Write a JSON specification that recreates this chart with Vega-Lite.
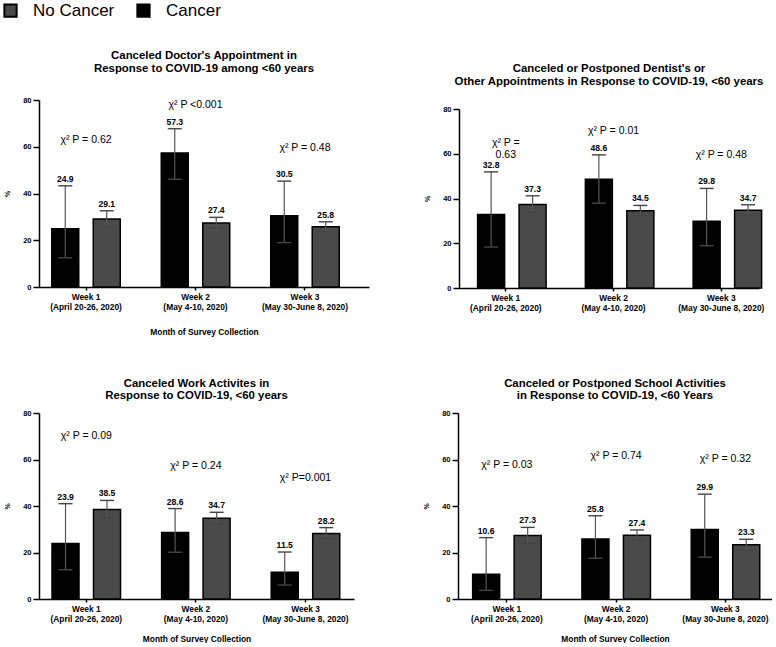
{
  "$schema": "https://vega.github.io/schema/vega-lite/v6.json",
  "padding": {"left": 2, "top": 2, "right": 0, "bottom": 0},
  "background": "white",
  "datasets": {
    "doctor": [
      {"week": "Week 1|(April 20-26, 2020)", "group": "Cancer", "value": 24.9, "lo": 12.5, "hi": 43.3},
      {"week": "Week 1|(April 20-26, 2020)", "group": "No Cancer", "value": 29.1, "lo": 25.8, "hi": 32.6},
      {"week": "Week 2|(May 4-10, 2020)", "group": "Cancer", "value": 57.3, "lo": 46.1, "hi": 67.7},
      {"week": "Week 2|(May 4-10, 2020)", "group": "No Cancer", "value": 27.4, "lo": 25.1, "hi": 29.8},
      {"week": "Week 3|(May 30-June 8, 2020)", "group": "Cancer", "value": 30.5, "lo": 19.0, "hi": 45.3},
      {"week": "Week 3|(May 30-June 8, 2020)", "group": "No Cancer", "value": 25.8, "lo": 23.7, "hi": 27.9}
    ],
    "doctor_chi": [
      {"week": "Week 1|(April 20-26, 2020)", "label": "χ² P = 0.62", "pos": 62.9},
      {"week": "Week 2|(May 4-10, 2020)", "label": "χ² P <0.001", "pos": 77.9},
      {"week": "Week 3|(May 30-June 8, 2020)", "label": "χ² P = 0.48", "pos": 59.6}
    ],
    "dentist": [
      {"week": "Week 1|(April 20-26, 2020)", "group": "Cancer", "value": 32.8, "lo": 18.3, "hi": 51.9},
      {"week": "Week 1|(April 20-26, 2020)", "group": "No Cancer", "value": 37.3, "lo": 33.8, "hi": 41.2},
      {"week": "Week 2|(May 4-10, 2020)", "group": "Cancer", "value": 48.6, "lo": 37.9, "hi": 59.5},
      {"week": "Week 2|(May 4-10, 2020)", "group": "No Cancer", "value": 34.5, "lo": 32.3, "hi": 36.9},
      {"week": "Week 3|(May 30-June 8, 2020)", "group": "Cancer", "value": 29.8, "lo": 18.9, "hi": 44.5},
      {"week": "Week 3|(May 30-June 8, 2020)", "group": "No Cancer", "value": 34.7, "lo": 32.3, "hi": 37.2}
    ],
    "dentist_chi": [
      {"week": "Week 1|(April 20-26, 2020)", "label": "χ² P =|0.63", "pos": 64.9},
      {"week": "Week 2|(May 4-10, 2020)", "label": "χ² P = 0.01", "pos": 70.2},
      {"week": "Week 3|(May 30-June 8, 2020)", "label": "χ² P = 0.48", "pos": 59.5}
    ],
    "work": [
      {"week": "Week 1|(April 20-26, 2020)", "group": "Cancer", "value": 23.9, "lo": 12.6, "hi": 41.0},
      {"week": "Week 1|(April 20-26, 2020)", "group": "No Cancer", "value": 38.5, "lo": 34.8, "hi": 42.4},
      {"week": "Week 2|(May 4-10, 2020)", "group": "Cancer", "value": 28.6, "lo": 20.1, "hi": 38.9},
      {"week": "Week 2|(May 4-10, 2020)", "group": "No Cancer", "value": 34.7, "lo": 32.4, "hi": 37.3},
      {"week": "Week 3|(May 30-June 8, 2020)", "group": "Cancer", "value": 11.5, "lo": 6.0, "hi": 20.2},
      {"week": "Week 3|(May 30-June 8, 2020)", "group": "No Cancer", "value": 28.2, "lo": 26.1, "hi": 30.7}
    ],
    "work_chi": [
      {"week": "Week 1|(April 20-26, 2020)", "label": "χ² P = 0.09", "pos": 70.0},
      {"week": "Week 2|(May 4-10, 2020)", "label": "χ² P = 0.24", "pos": 57.1},
      {"week": "Week 3|(May 30-June 8, 2020)", "label": "χ² P=0.001", "pos": 52.0}
    ],
    "school": [
      {"week": "Week 1|(April 20-26, 2020)", "group": "Cancer", "value": 10.6, "lo": 3.7, "hi": 26.4},
      {"week": "Week 1|(April 20-26, 2020)", "group": "No Cancer", "value": 27.3, "lo": 23.8, "hi": 30.8},
      {"week": "Week 2|(May 4-10, 2020)", "group": "Cancer", "value": 25.8, "lo": 17.5, "hi": 35.8},
      {"week": "Week 2|(May 4-10, 2020)", "group": "No Cancer", "value": 27.4, "lo": 25.4, "hi": 29.7},
      {"week": "Week 3|(May 30-June 8, 2020)", "group": "Cancer", "value": 29.9, "lo": 18.0, "hi": 45.1},
      {"week": "Week 3|(May 30-June 8, 2020)", "group": "No Cancer", "value": 23.3, "lo": 20.8, "hi": 25.7}
    ],
    "school_chi": [
      {"week": "Week 1|(April 20-26, 2020)", "label": "χ² P = 0.03", "pos": 57.8},
      {"week": "Week 2|(May 4-10, 2020)", "label": "χ² P = 0.74", "pos": 61.5},
      {"week": "Week 3|(May 30-June 8, 2020)", "label": "χ² P = 0.32", "pos": 60.3}
    ]
  },
  "bounds": "flush",
  "spacing": 313,
  "vconcat": [
    {
      "bounds": "flush",
      "spacing": 90,
      "hconcat": [
        {
          "width": 330, "height": 187,
          "title": {"text": ["Canceled Doctor's Appointment in", "Response to COVID-19 among <60 years"], "offset": 22},
          "layer": [
            {
              "data": {"name": "doctor"},
              "mark": {"type": "bar", "stroke": "#000", "strokeWidth": 1.5},
              "encoding": {
                "x": {"field": "week", "type": "nominal", "title": "Month of Survey Collection", "scale": {"domain": ["Week 1|(April 20-26, 2020)", "Week 2|(May 4-10, 2020)", "Week 3|(May 30-June 8, 2020)"], "paddingInner": 0.2, "paddingOuter": 0.107, "align": 0.137}, "axis": {"labelExpr": "split(datum.label, '|')", "titlePadding": 17}},
                "xOffset": {"field": "group", "type": "nominal", "scale": {"domain": ["Cancer", "No Cancer"], "paddingInner": 0.349, "paddingOuter": 0.23}},
                "y": {"field": "value", "type": "quantitative", "title": "%", "scale": {"domain": [0, 80]}},
                "color": {"field": "group", "type": "nominal", "scale": {"domain": ["No Cancer", "Cancer"], "range": ["#4a4a4a", "#000000"]},
                  "legend": {"orient": "none", "legendX": -37, "legendY": -98, "direction": "horizontal", "title": null, "symbolType": "square", "symbolSize": 150, "symbolStrokeColor": "#000", "symbolStrokeWidth": 2, "labelFontSize": 17, "labelFont": "Liberation Sans", "labelColor": "#000", "labelOffset": 14, "columnPadding": 18, "padding": 0}}
              }
            },
            {
              "data": {"name": "doctor"},
              "mark": {"type": "rule", "color": "#555", "strokeWidth": 1.2},
              "encoding": {
                "x": {"field": "week", "type": "nominal", "title": "Month of Survey Collection"},
                "xOffset": {"field": "group", "type": "nominal"},
                "y": {"field": "lo", "type": "quantitative", "title": "%"},
                "y2": {"field": "hi"}
              }
            },
            {
              "data": {"name": "doctor"},
              "mark": {"type": "point", "shape": "stroke", "size": 196, "filled": false, "color": "#444", "strokeWidth": 1.4, "opacity": 1},
              "encoding": {
                "x": {"field": "week", "type": "nominal", "title": "Month of Survey Collection"},
                "xOffset": {"field": "group", "type": "nominal"},
                "y": {"field": "hi", "type": "quantitative", "title": "%"}
              }
            },
            {
              "data": {"name": "doctor"},
              "mark": {"type": "point", "shape": "stroke", "size": 196, "filled": false, "color": "#444", "strokeWidth": 1.4, "opacity": 1},
              "encoding": {
                "x": {"field": "week", "type": "nominal", "title": "Month of Survey Collection"},
                "xOffset": {"field": "group", "type": "nominal"},
                "y": {"field": "lo", "type": "quantitative", "title": "%"}
              }
            },
            {
              "data": {"name": "doctor"},
              "mark": {"type": "text", "baseline": "bottom", "dy": -2, "fontSize": 8.6, "fontWeight": "bold", "color": "#000"},
              "encoding": {
                "x": {"field": "week", "type": "nominal", "title": "Month of Survey Collection"},
                "xOffset": {"field": "group", "type": "nominal"},
                "y": {"field": "hi", "type": "quantitative", "title": "%"},
                "text": {"field": "value", "type": "quantitative", "format": ".1f"}
              }
            },
            {
              "data": {"name": "doctor_chi"},
              "mark": {"type": "text", "fontSize": 10.5, "lineBreak": "|", "baseline": "middle", "color": "#000"},
              "encoding": {
                "x": {"field": "week", "type": "nominal", "title": "Month of Survey Collection"},
                "y": {"field": "pos", "type": "quantitative", "title": "%"},
                "text": {"field": "label"}
              }
            }
          ]
        },
        {
          "bounds": "flush",
          "spacing": 0,
          "vconcat": [
            {"width": 300, "height": 9, "data": {"values": []}, "mark": "rect"},
            {
              "width": 300, "height": 179,
              "title": {"text": ["Canceled or Postponed Dentist's or", "Other Appointments in Response to COVID-19, <60 years"], "offset": 18},
              "layer": [
                {
                  "data": {"name": "dentist"},
                  "mark": {"type": "bar", "stroke": "#000", "strokeWidth": 1.5},
                  "encoding": {
                    "x": {"field": "week", "type": "nominal", "title": null, "scale": {"domain": ["Week 1|(April 20-26, 2020)", "Week 2|(May 4-10, 2020)", "Week 3|(May 30-June 8, 2020)"], "paddingInner": 0.3, "paddingOuter": 0.042, "align": 1}, "axis": {"labelExpr": "split(datum.label, '|')"}},
                    "xOffset": {"field": "group", "type": "nominal", "scale": {"domain": ["Cancer", "No Cancer"], "paddingInner": 0.362, "paddingOuter": 0.1165}},
                    "y": {"field": "value", "type": "quantitative", "title": "%", "scale": {"domain": [0, 80]}},
                    "color": {"field": "group", "type": "nominal", "scale": {"domain": ["No Cancer", "Cancer"], "range": ["#4a4a4a", "#000000"]},
                      "legend": {"orient": "none", "legendX": -37, "legendY": -98, "direction": "horizontal", "title": null, "symbolType": "square", "symbolSize": 150, "symbolStrokeColor": "#000", "symbolStrokeWidth": 2, "labelFontSize": 17, "labelFont": "Liberation Sans", "labelColor": "#000", "labelOffset": 14, "columnPadding": 18, "padding": 0}}
                  }
                },
                {
                  "data": {"name": "dentist"},
                  "mark": {"type": "rule", "color": "#555", "strokeWidth": 1.2},
                  "encoding": {
                    "x": {"field": "week", "type": "nominal", "title": null},
                    "xOffset": {"field": "group", "type": "nominal"},
                    "y": {"field": "lo", "type": "quantitative", "title": "%"},
                    "y2": {"field": "hi"}
                  }
                },
                {
                  "data": {"name": "dentist"},
                  "mark": {"type": "point", "shape": "stroke", "size": 196, "filled": false, "color": "#444", "strokeWidth": 1.4, "opacity": 1},
                  "encoding": {
                    "x": {"field": "week", "type": "nominal", "title": null},
                    "xOffset": {"field": "group", "type": "nominal"},
                    "y": {"field": "hi", "type": "quantitative", "title": "%"}
                  }
                },
                {
                  "data": {"name": "dentist"},
                  "mark": {"type": "point", "shape": "stroke", "size": 196, "filled": false, "color": "#444", "strokeWidth": 1.4, "opacity": 1},
                  "encoding": {
                    "x": {"field": "week", "type": "nominal", "title": null},
                    "xOffset": {"field": "group", "type": "nominal"},
                    "y": {"field": "lo", "type": "quantitative", "title": "%"}
                  }
                },
                {
                  "data": {"name": "dentist"},
                  "mark": {"type": "text", "baseline": "bottom", "dy": -2, "fontSize": 8.6, "fontWeight": "bold", "color": "#000"},
                  "encoding": {
                    "x": {"field": "week", "type": "nominal", "title": null},
                    "xOffset": {"field": "group", "type": "nominal"},
                    "y": {"field": "hi", "type": "quantitative", "title": "%"},
                    "text": {"field": "value", "type": "quantitative", "format": ".1f"}
                  }
                },
                {
                  "data": {"name": "dentist_chi"},
                  "mark": {"type": "text", "fontSize": 10.5, "lineBreak": "|", "baseline": "middle", "color": "#000"},
                  "encoding": {
                    "x": {"field": "week", "type": "nominal", "title": null},
                    "y": {"field": "pos", "type": "quantitative", "title": "%"},
                    "text": {"field": "label"}
                  }
                }
              ]
            }
          ]
        }
      ]
    },
    {
      "bounds": "flush",
      "spacing": 104,
      "hconcat": [
        {
          "width": 315, "height": 186,
          "title": {"text": ["Canceled Work Activites in", "Response to COVID-19, <60 years"], "offset": 8, "lineHeight": 12},
          "layer": [
            {
              "data": {"name": "work"},
              "mark": {"type": "bar", "stroke": "#000", "strokeWidth": 1.5},
              "encoding": {
                "x": {"field": "week", "type": "nominal", "title": "Month of Survey Collection", "scale": {"domain": ["Week 1|(April 20-26, 2020)", "Week 2|(May 4-10, 2020)", "Week 3|(May 30-June 8, 2020)"], "paddingInner": 0.2, "paddingOuter": 0.037, "align": 0.427}, "axis": {"labelExpr": "split(datum.label, '|')", "titlePadding": 12}},
                "xOffset": {"field": "group", "type": "nominal", "scale": {"domain": ["Cancer", "No Cancer"], "paddingInner": 0.357, "paddingOuter": 0.243}},
                "y": {"field": "value", "type": "quantitative", "title": "%", "scale": {"domain": [0, 80]}},
                "color": {"field": "group", "type": "nominal", "scale": {"domain": ["No Cancer", "Cancer"], "range": ["#4a4a4a", "#000000"]},
                  "legend": {"orient": "none", "legendX": -37, "legendY": -98, "direction": "horizontal", "title": null, "symbolType": "square", "symbolSize": 150, "symbolStrokeColor": "#000", "symbolStrokeWidth": 2, "labelFontSize": 17, "labelFont": "Liberation Sans", "labelColor": "#000", "labelOffset": 14, "columnPadding": 18, "padding": 0}}
              }
            },
            {
              "data": {"name": "work"},
              "mark": {"type": "rule", "color": "#555", "strokeWidth": 1.2},
              "encoding": {
                "x": {"field": "week", "type": "nominal", "title": "Month of Survey Collection"},
                "xOffset": {"field": "group", "type": "nominal"},
                "y": {"field": "lo", "type": "quantitative", "title": "%"},
                "y2": {"field": "hi"}
              }
            },
            {
              "data": {"name": "work"},
              "mark": {"type": "point", "shape": "stroke", "size": 196, "filled": false, "color": "#444", "strokeWidth": 1.4, "opacity": 1},
              "encoding": {
                "x": {"field": "week", "type": "nominal", "title": "Month of Survey Collection"},
                "xOffset": {"field": "group", "type": "nominal"},
                "y": {"field": "hi", "type": "quantitative", "title": "%"}
              }
            },
            {
              "data": {"name": "work"},
              "mark": {"type": "point", "shape": "stroke", "size": 196, "filled": false, "color": "#444", "strokeWidth": 1.4, "opacity": 1},
              "encoding": {
                "x": {"field": "week", "type": "nominal", "title": "Month of Survey Collection"},
                "xOffset": {"field": "group", "type": "nominal"},
                "y": {"field": "lo", "type": "quantitative", "title": "%"}
              }
            },
            {
              "data": {"name": "work"},
              "mark": {"type": "text", "baseline": "bottom", "dy": -2, "fontSize": 8.6, "fontWeight": "bold", "color": "#000"},
              "encoding": {
                "x": {"field": "week", "type": "nominal", "title": "Month of Survey Collection"},
                "xOffset": {"field": "group", "type": "nominal"},
                "y": {"field": "hi", "type": "quantitative", "title": "%"},
                "text": {"field": "value", "type": "quantitative", "format": ".1f"}
              }
            },
            {
              "data": {"name": "work_chi"},
              "mark": {"type": "text", "fontSize": 10.5, "lineBreak": "|", "baseline": "middle", "color": "#000"},
              "encoding": {
                "x": {"field": "week", "type": "nominal", "title": "Month of Survey Collection"},
                "y": {"field": "pos", "type": "quantitative", "title": "%"},
                "text": {"field": "label"}
              }
            }
          ]
        },
        {
          "width": 314, "height": 186,
          "title": {"text": ["Canceled or Postponed School Activities", "in Response to COVID-19, <60 Years"], "offset": 8, "lineHeight": 12},
          "layer": [
            {
              "data": {"name": "school"},
              "mark": {"type": "bar", "stroke": "#000", "strokeWidth": 1.5},
              "encoding": {
                "x": {"field": "week", "type": "nominal", "title": "Month of Survey Collection", "scale": {"domain": ["Week 1|(April 20-26, 2020)", "Week 2|(May 4-10, 2020)", "Week 3|(May 30-June 8, 2020)"], "paddingInner": 0.2, "paddingOuter": 0.0365, "align": 0.64}, "axis": {"labelExpr": "split(datum.label, '|')", "titlePadding": 12}},
                "xOffset": {"field": "group", "type": "nominal", "scale": {"domain": ["Cancer", "No Cancer"], "paddingInner": 0.349, "paddingOuter": 0.2415}},
                "y": {"field": "value", "type": "quantitative", "title": "%", "scale": {"domain": [0, 80]}},
                "color": {"field": "group", "type": "nominal", "scale": {"domain": ["No Cancer", "Cancer"], "range": ["#4a4a4a", "#000000"]},
                  "legend": {"orient": "none", "legendX": -37, "legendY": -98, "direction": "horizontal", "title": null, "symbolType": "square", "symbolSize": 150, "symbolStrokeColor": "#000", "symbolStrokeWidth": 2, "labelFontSize": 17, "labelFont": "Liberation Sans", "labelColor": "#000", "labelOffset": 14, "columnPadding": 18, "padding": 0}}
              }
            },
            {
              "data": {"name": "school"},
              "mark": {"type": "rule", "color": "#555", "strokeWidth": 1.2},
              "encoding": {
                "x": {"field": "week", "type": "nominal", "title": "Month of Survey Collection"},
                "xOffset": {"field": "group", "type": "nominal"},
                "y": {"field": "lo", "type": "quantitative", "title": "%"},
                "y2": {"field": "hi"}
              }
            },
            {
              "data": {"name": "school"},
              "mark": {"type": "point", "shape": "stroke", "size": 196, "filled": false, "color": "#444", "strokeWidth": 1.4, "opacity": 1},
              "encoding": {
                "x": {"field": "week", "type": "nominal", "title": "Month of Survey Collection"},
                "xOffset": {"field": "group", "type": "nominal"},
                "y": {"field": "hi", "type": "quantitative", "title": "%"}
              }
            },
            {
              "data": {"name": "school"},
              "mark": {"type": "point", "shape": "stroke", "size": 196, "filled": false, "color": "#444", "strokeWidth": 1.4, "opacity": 1},
              "encoding": {
                "x": {"field": "week", "type": "nominal", "title": "Month of Survey Collection"},
                "xOffset": {"field": "group", "type": "nominal"},
                "y": {"field": "lo", "type": "quantitative", "title": "%"}
              }
            },
            {
              "data": {"name": "school"},
              "mark": {"type": "text", "baseline": "bottom", "dy": -2, "fontSize": 8.6, "fontWeight": "bold", "color": "#000"},
              "encoding": {
                "x": {"field": "week", "type": "nominal", "title": "Month of Survey Collection"},
                "xOffset": {"field": "group", "type": "nominal"},
                "y": {"field": "hi", "type": "quantitative", "title": "%"},
                "text": {"field": "value", "type": "quantitative", "format": ".1f"}
              }
            },
            {
              "data": {"name": "school_chi"},
              "mark": {"type": "text", "fontSize": 10.5, "lineBreak": "|", "baseline": "middle", "color": "#000"},
              "encoding": {
                "x": {"field": "week", "type": "nominal", "title": "Month of Survey Collection"},
                "y": {"field": "pos", "type": "quantitative", "title": "%"},
                "text": {"field": "label"}
              }
            }
          ]
        }
      ]
    }
  ],
  "config": {
    "font": "Liberation Sans",
    "view": {"stroke": null},
    "axis": {"grid": false, "domainColor": "#000", "domainWidth": 1.5, "tickColor": "#000", "tickWidth": 1.5, "labelColor": "#000", "labelFontWeight": "bold", "titleColor": "#000", "titleFontWeight": "bold", "labelFont": "Liberation Sans", "titleFont": "Liberation Sans"},
    "axisX": {"labelAngle": 0, "labelFontSize": 8.4, "labelLineHeight": 10, "tickSize": 3, "labelPadding": 2, "titleFontSize": 8.4},
    "axisY": {"labelFontSize": 7.5, "tickSize": 6, "labelPadding": 2, "titleFontSize": 7, "titlePadding": 12, "tickCount": 5},
    "title": {"fontSize": 11.4, "fontWeight": "bold", "lineHeight": 13, "color": "#000", "anchor": "middle", "frame": "group"}
  }
}
